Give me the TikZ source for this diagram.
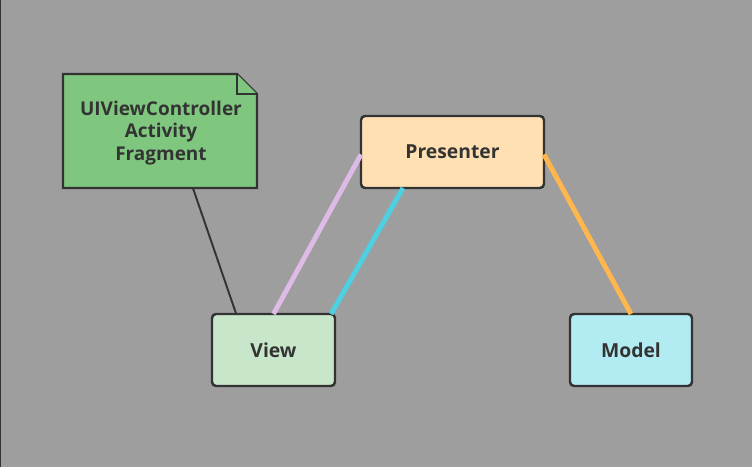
\documentclass[tikz,border=0pt]{standalone}
\usepackage{fontspec}
\setmainfont{Open Sans}
\definecolor{bg}{HTML}{9E9E9E}
\definecolor{ink}{HTML}{333333}
\definecolor{notegreen}{HTML}{7FC77F}
\definecolor{presfill}{HTML}{FFE0B2}
\definecolor{viewfill}{HTML}{C8E6C9}
\definecolor{modelfill}{HTML}{B2EBF2}
\definecolor{pinkline}{HTML}{DDBBE6}
\definecolor{cyanline}{HTML}{4DD0E1}
\definecolor{orangeline}{HTML}{FFB74D}
\begin{document}
\begin{tikzpicture}[x=0.02cm,y=-0.02cm,
  box/.style={draw=ink,line width=1.4pt,rounded corners=2.3pt,minimum height=1.44cm,
    inner sep=0pt,outer sep=0pt,text=ink,font=\fontsize{11}{13}\selectfont\bfseries},
  link/.style={line width=2.8pt}]
\useasboundingbox (0,0) rectangle (752,467);
\fill[bg] (0,0) rectangle (752,467);
\draw[ink,line width=0.8pt] (0.4,0) -- (0.4,467);
\node[minimum width=3.88cm,minimum height=2.28cm,inner sep=0pt,outer sep=0pt] (note) at (160,131) {};
\draw[ink,line width=1.4pt,fill=notegreen] (note.south west) -- (note.north west) -- ([xshift=-0.4cm]note.north east)
  -- ([yshift=-0.4cm]note.north east) -- (note.south east) -- cycle;
\draw[ink,line width=1.4pt,fill=notegreen] ([xshift=-0.4cm]note.north east) -- ([xshift=-0.4cm,yshift=-0.4cm]note.north east)
  -- ([yshift=-0.4cm]note.north east);
\node[align=center,text=ink,font=\fontsize{10.8}{13}\selectfont\bfseries] (notetext) at (161,133) {UIViewController\\Activity\\Fragment};
\node[box,fill=presfill,minimum width=3.66cm] (presenter) at (452.5,152) {Presenter};
\node[box,fill=viewfill,minimum width=2.46cm] (view) at (273.5,350) {View};
\node[box,fill=modelfill,minimum width=2.44cm] (model) at (631,350) {Model};
\draw[ink,line width=1.1pt] (note.-60) -- (view.136);
\draw[link,pinkline] ([yshift=-0.05cm]presenter.west) -- (view.north);
\draw[link,cyanline] (presenter.216) -- (view.32);
\draw[link,orangeline] ([yshift=-0.05cm]presenter.east) -- (model.north);
\end{tikzpicture}
\end{document}
